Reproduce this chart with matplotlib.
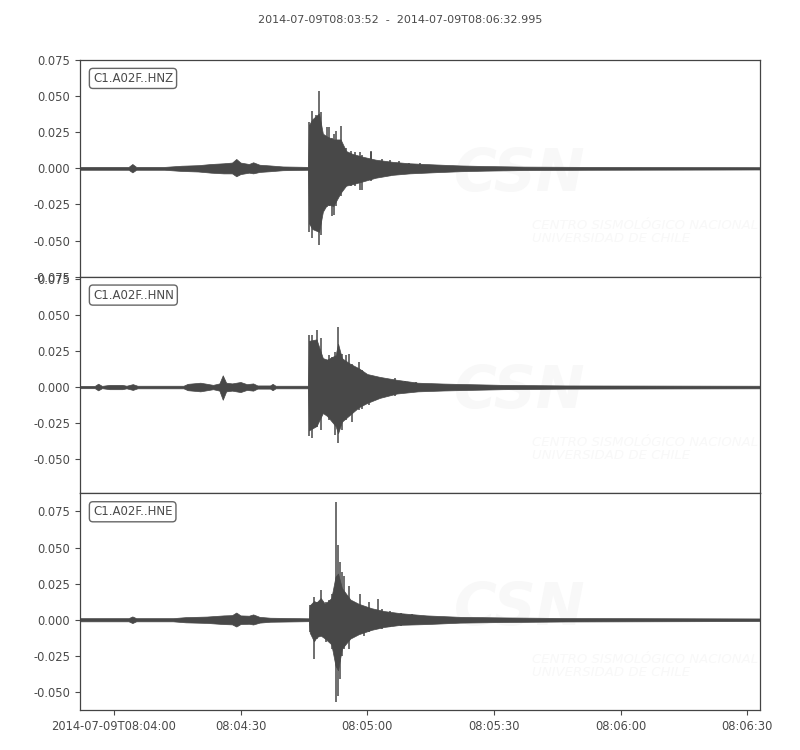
import matplotlib
matplotlib.use("Agg")
import matplotlib.pyplot as plt

# ---------------- data ----------------
title = "2014-07-09T08:03:52  -  2014-07-09T08:06:32.995"
start_time = "08:03:52"
duration = 160.995
channels = ["C1.A02F..HNZ", "C1.A02F..HNN", "C1.A02F..HNE"]
ylims = [(-0.075, 0.075), (-0.0736, 0.0764), (-0.0625, 0.0875)]
tick_times = ["08:04:00", "08:04:30", "08:05:00", "08:05:30", "08:06:00", "08:06:30"]
tick_labels = ["2014-07-09T08:04:00", "08:04:30", "08:05:00", "08:05:30", "08:06:00", "08:06:30"]

# envelopes: seconds after start, upper value, lower value
hnz_t = [0, 5, 11.5, 12.4, 13.3, 20, 24, 28, 31, 34, 36, 37, 38, 40, 41, 42.5, 45, 48, 54.0,
         54.2, 55, 56.6, 57.5, 58.5, 60, 61.7, 63, 64.5, 67, 70, 74, 78, 84, 90, 96, 105, 120, 161]
hnz_up = [0.001, 0.001, 0.001, 0.003, 0.001, 0.001, 0.0018, 0.0022, 0.003, 0.0035, 0.004, 0.0065,
          0.004, 0.003, 0.0042, 0.0025, 0.002, 0.0013, 0.001,
          0.030, 0.034, 0.038, 0.024, 0.022, 0.020, 0.020, 0.012, 0.010, 0.008, 0.006, 0.0045, 0.0035,
          0.0027, 0.002, 0.0016, 0.0012, 0.001, 0.0008]
hnz_lo = [-0.001, -0.001, -0.001, -0.0028, -0.001, -0.001, -0.0018, -0.0022, -0.003, -0.0035,
          -0.0035, -0.0055, -0.004, -0.003, -0.0035, -0.0025, -0.002, -0.0013, -0.001,
          -0.038, -0.042, -0.044, -0.030, -0.025, -0.026, -0.017, -0.012, -0.011, -0.009, -0.0065,
          -0.0045, -0.0035, -0.0027, -0.002, -0.0016, -0.0012, -0.001, -0.0008]
hnz_spk_t = [54.25, 55.0, 55.8, 56.6, 57.0, 57.8, 58.5, 59.0, 59.75, 60.1, 60.5, 61.7, 62.9, 64.1,
             65.2, 66.4, 66.7, 68.8, 69.0, 71.5, 73.5, 75.5, 78.0, 80.5]
hnz_spk_up = [0.032, 0.040, 0.037, 0.0534, 0.039, 0.016, 0.0287, 0.0287, 0.021, 0.024, 0.026, 0.029,
              0.014, 0.012, 0.011, 0.011, 0.009, 0.011, 0.012, 0.0067, 0.006, 0.005, 0.004, 0.0035]
hnz_spk_lo = [-0.044, -0.048, -0.042, -0.0534, -0.046, -0.023, -0.027, -0.026, -0.033, -0.0326, -0.026,
              -0.019, -0.012, -0.0125, -0.012, -0.015, -0.0153, -0.009, -0.008, -0.006, -0.0055, -0.0037,
              -0.004, -0.003]

hnn_t = [0, 3.5, 4.3, 5.2, 7, 10, 11, 12.5, 13.6, 24.5, 25.5, 28.5, 30.5, 31.5, 33, 33.8, 34.6, 36, 38,
         39.5, 41, 42, 45, 45.6, 46.3, 54.0,
         54.2, 56, 57.5, 58.5, 60.5, 61.1, 62, 64, 66, 68, 71, 75, 80, 86, 92, 100, 115, 161]
hnn_up = [0.0008, 0.0008, 0.0023, 0.0008, 0.0015, 0.0015, 0.0009, 0.002, 0.0009, 0.0009, 0.0022, 0.003,
          0.002, 0.0015, 0.0025, 0.0081, 0.003, 0.0025, 0.0035, 0.002, 0.0025, 0.0011, 0.0011, 0.0022,
          0.0009, 0.0009,
          0.032, 0.033, 0.020, 0.019, 0.022, 0.030, 0.020, 0.016, 0.013, 0.009, 0.007, 0.005, 0.003,
          0.0024, 0.002, 0.0015, 0.0011, 0.0009]
hnn_lo = [-0.0008, -0.0008, -0.0023, -0.0008, -0.0015, -0.0015, -0.0009, -0.002, -0.0009, -0.0009,
          -0.0022, -0.003, -0.002, -0.0015, -0.0025, -0.0088, -0.003, -0.0025, -0.0035, -0.002, -0.0025,
          -0.0011, -0.0011, -0.0022, -0.0009, -0.0009,
          -0.030, -0.027, -0.018, -0.020, -0.027, -0.032, -0.024, -0.019, -0.014, -0.011, -0.0075,
          -0.0045, -0.003, -0.0024, -0.002, -0.0015, -0.0011, -0.0009]
hnn_spk_t = [54.25, 55.0, 56.2, 57.0, 57.8, 59.0, 59.75, 60.4, 61.1, 62.1, 62.9, 63.7, 64.5, 66.0,
             66.8, 68.4, 70.0, 72.3, 74.5, 77.0, 79.5]
hnn_spk_up = [0.036, 0.036, 0.0395, 0.034, 0.0164, 0.022, 0.021, 0.024, 0.0418, 0.023, 0.022, 0.023,
              0.016, 0.0175, 0.012, 0.007, 0.006, 0.004, 0.006, 0.0045, 0.0035]
hnn_spk_lo = [-0.034, -0.035, -0.0275, -0.030, -0.017, -0.023, -0.018, -0.033, -0.039, -0.030, -0.023,
              -0.020, -0.024, -0.016, -0.015, -0.0125, -0.009, -0.0067, -0.006, -0.004, -0.0035]

hne_t = [0, 11.5, 12.4, 13.3, 22, 25, 30, 34, 36, 37, 38, 40, 41, 42.5, 45, 54.2,
         54.4, 55.4, 56, 57, 58, 59.5, 60.5, 61.1, 62, 64, 66, 69, 72, 76, 82, 90, 100, 115, 161]
hne_up = [0.0011, 0.0011, 0.0023, 0.0011, 0.0011, 0.0018, 0.0022, 0.003, 0.0032, 0.005, 0.003, 0.0028,
          0.0037, 0.002, 0.0014, 0.001,
          0.010, 0.013, 0.012, 0.015, 0.011, 0.015, 0.030, 0.032, 0.022, 0.014, 0.011, 0.008, 0.006,
          0.0045, 0.003, 0.002, 0.0016, 0.0012, 0.0009]
hne_lo = [-0.0011, -0.0011, -0.0023, -0.0011, -0.0011, -0.0018, -0.0022, -0.003, -0.0032, -0.0047,
          -0.003, -0.0028, -0.0033, -0.002, -0.0014, -0.001,
          -0.009, -0.015, -0.012, -0.011, -0.013, -0.017, -0.032, -0.035, -0.020, -0.013, -0.010,
          -0.007, -0.005, -0.0035, -0.003, -0.002, -0.0016, -0.0012, -0.0009]
hne_spk_t = [54.4, 55.4, 56.2, 57.0, 58.2, 59.0, 59.75, 60.5, 61.1, 61.5, 62.1, 62.5, 63.7, 64.9, 66.2,
             67.2, 68.4, 70.6, 71.5, 73.5, 76.0, 78.5]
hne_spk_up = [0.010, 0.016, 0.0124, 0.0206, 0.0124, 0.0135, 0.018, 0.0815, 0.052, 0.040, 0.033, 0.030,
              0.0236, 0.0124, 0.018, 0.0077, 0.0124, 0.0147, 0.0077, 0.006, 0.005, 0.004]
hne_spk_lo = [-0.0087, -0.027, -0.013, -0.011, -0.0155, -0.0087, -0.020, -0.0566, -0.053, -0.041,
              -0.025, -0.020, -0.020, -0.011, -0.0075, -0.011, -0.0087, -0.0063, -0.0063, -0.005,
              -0.004, -0.003]

watermark_big = "CSN"
watermark_lines = "CENTRO SISMOLÓGICO NACIONAL\nUNIVERSIDAD DE CHILE"
# ---------------------------------------------------------------


def secs(hms):
    h, m, s = hms.split(":")
    return int(h) * 3600 + int(m) * 60 + float(s)


t0 = secs(start_time)
tick_pos = [secs(s) - t0 for s in tick_times]

envs = [(hnz_t, hnz_up, hnz_lo, hnz_spk_t, hnz_spk_up, hnz_spk_lo),
        (hnn_t, hnn_up, hnn_lo, hnn_spk_t, hnn_spk_up, hnn_spk_lo),
        (hne_t, hne_up, hne_lo, hne_spk_t, hne_spk_up, hne_spk_lo)]

plt.rcParams["axes.unicode_minus"] = True
TXT = "#4a4a4a"
TRACE = "#484848"

fig = plt.figure(figsize=(8, 7.5), dpi=100)
fig.text(0.5, 0.973, title, ha="center", va="center", fontsize=8, color=TXT)

left, right, top, bottom = 0.1, 0.95, 0.92, 0.0533
h = (top - bottom) / 3
for i, (ch, yl, env) in enumerate(zip(channels, ylims, envs)):
    ax = fig.add_axes([left, top - (i + 1) * h, right - left, h])
    et, eu, el, st, su, sl = env
    # very faint watermark
    ax.text(0.55, 0.47, watermark_big, transform=ax.transAxes, fontsize=42, fontweight="bold",
            style="italic", color="#f8f8f8", ha="left", va="center", zorder=0, clip_on=True)
    ax.text(0.665, 0.205, watermark_lines, transform=ax.transAxes, fontsize=9.5, style="italic",
            color="#f8f8f8", ha="left", va="center", linespacing=1.0, zorder=0, clip_on=True)
    ax.fill_between(et, eu, el, color=TRACE, linewidth=0.5, edgecolor=TRACE, zorder=2)
    ax.vlines(st, sl, su, color=TRACE, linewidth=1.1, zorder=3)
    ax.set_xlim(0, duration)
    ax.set_ylim(*yl)
    ax.yaxis.set_major_locator(matplotlib.ticker.MultipleLocator(0.025))
    ax.yaxis.set_major_formatter(matplotlib.ticker.FormatStrFormatter("%.3f"))
    ax.tick_params(axis="y", labelsize=8.3, colors=TXT, length=3.5, direction="out")
    for sp in ax.spines.values():
        sp.set_color("#444444")
        sp.set_linewidth(0.9)
    ax.text(0.019, 0.945, ch, transform=ax.transAxes, fontsize=8.5, color=TXT, ha="left", va="top",
            bbox=dict(boxstyle="round,pad=0.3", fc="white", ec="#666666", lw=1.0), zorder=5)
    if i < 2:
        ax.set_xticks([])
    else:
        ax.set_xticks(tick_pos)
        ax.set_xticklabels(tick_labels)
        ax.tick_params(axis="x", labelsize=8.3, colors=TXT, length=3.5, direction="out")

fig.savefig("out.png", dpi=100)
